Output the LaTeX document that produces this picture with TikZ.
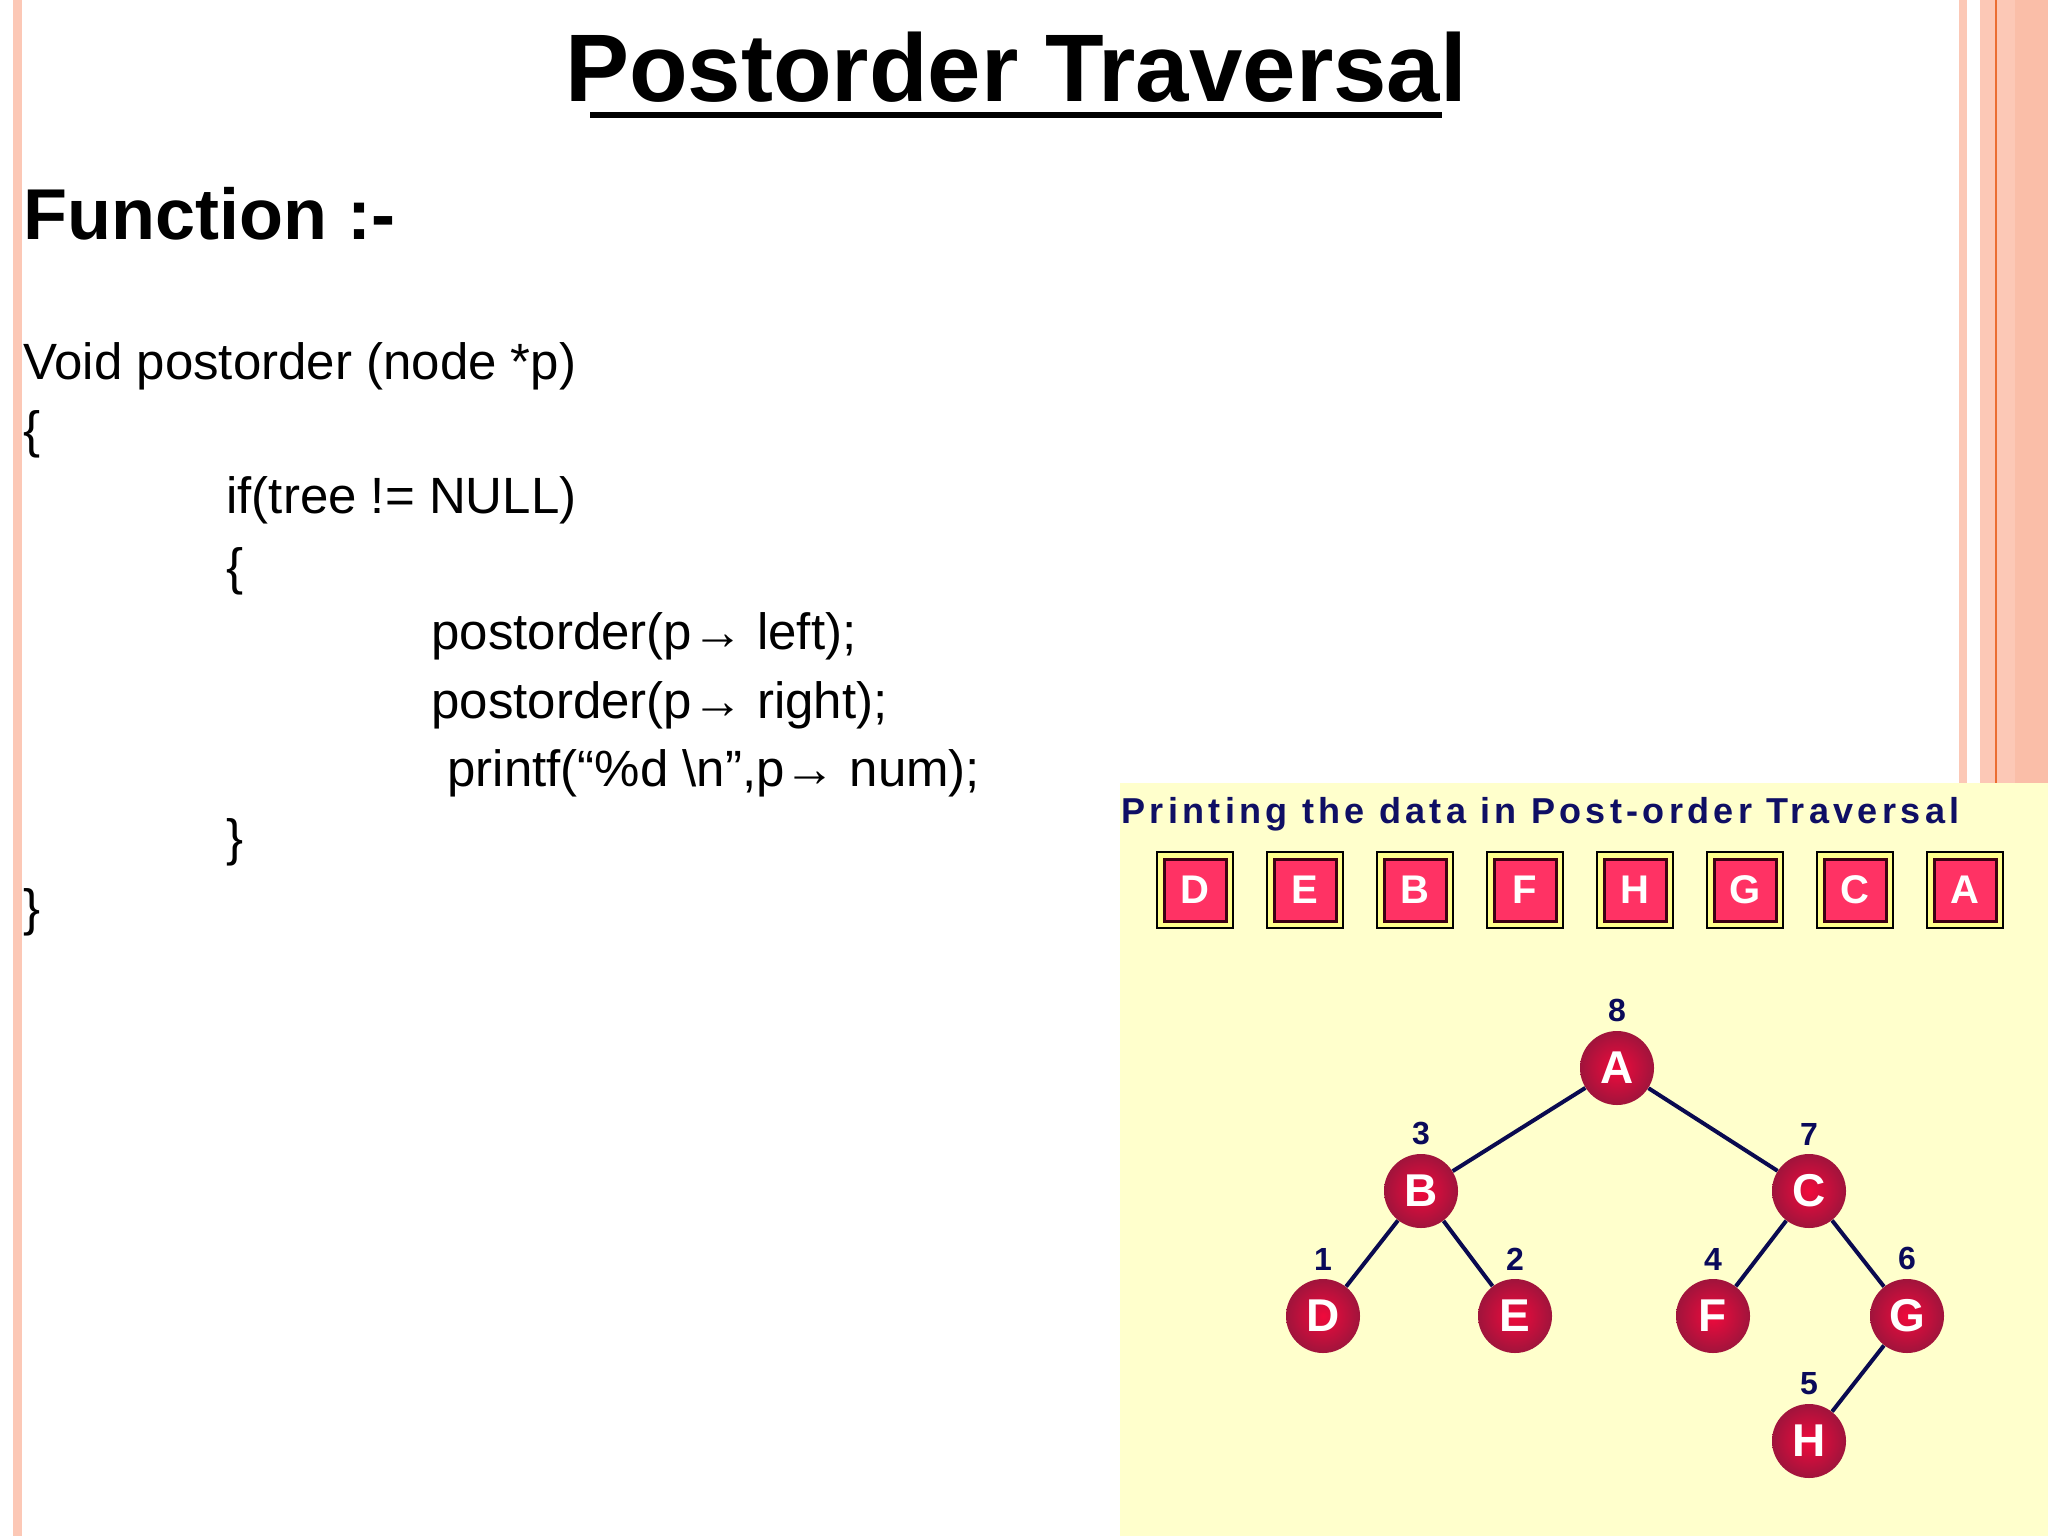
\documentclass[tikz,border=0pt]{standalone}
\usepackage{fontspec}
\setmainfont{Liberation Sans}
\usetikzlibrary{positioning}
\definecolor{salmon}{RGB}{252,200,182}
\definecolor{salmonb}{RGB}{250,190,168}
\definecolor{orln}{RGB}{235,110,50}
\definecolor{rin}{RGB}{240,10,60}
\definecolor{rout}{RGB}{160,20,60}
\definecolor{navy}{RGB}{10,10,90}
\definecolor{edgec}{RGB}{10,10,80}
\definecolor{cellyel}{RGB}{255,255,140}
\definecolor{celldk}{RGB}{60,0,20}
\definecolor{cellred}{RGB}{255,50,100}
\definecolor{panel}{RGB}{255,255,204}
\definecolor{ptit}{RGB}{15,15,100}
\begin{document}
\begin{tikzpicture}[x=0.5pt,y=-0.5pt,
  code/.style={anchor=base west,inner sep=0,font=\fontsize{25.5}{30}\selectfont},
  tnode/.style={circle,minimum size=37pt,inner sep=0,shade,inner color=rin,outer color=rout,text=white,font=\fontsize{23}{26}\bfseries},
  num/.style={text=navy,font=\fontsize{16}{18}\bfseries\selectfont,inner sep=0},
  edge/.style={line width=2pt,draw=edgec},
  cell/.style={draw=black,line width=1.2pt,fill=cellyel,minimum size=38pt,inner sep=0},
  inner/.style={draw=celldk,line width=1.5pt,fill=cellred,minimum size=31pt,inner sep=0,text=white,font=\fontsize{20}{22}\bfseries}]
\useasboundingbox (0,0) rectangle (2048,1536);
\fill[white] (0,0) rectangle (2048,1536);
% borders
\fill[salmon] (13,0) rectangle (22,1536);
\fill[salmon] (1959,0) rectangle (1967,1536);
\fill[salmon] (1980,0) rectangle (2048,1536);
\fill[salmonb] (2015,0) rectangle (2048,1536);
\draw[orln,line width=0.8pt] (1996,0) -- (1996,1536);
% title
\node (title) [anchor=base,inner sep=0,font=\fontsize{48}{56}\bfseries\selectfont] at (1016,102) {Postorder Traversal};
\draw[line width=2.5pt] (590,115) -- (1442,115);
\node (fn) [anchor=base west,inner sep=0,font=\fontsize{36}{40}\bfseries\selectfont] at (23,239) {Function :-};
% code
\node (c1) [code] at (23,379) {Void postorder (node *p)};
\node (c2) [code] at (23,447) {\{};
\node (c3) [code] at (226,513) {if(tree != NULL)};
\node (c4) [code] at (226,584) {\{};
\node (c5) [code] at (431,649) {postorder(p→ left);};
\node (c6) [code] at (431,718) {postorder(p→ right);};
\node (c7) [code] at (447,786) {printf(“\%d \textbackslash n”,p→ num);};
\node (c8) [code] at (226,855) {\}};
\node (c9) [code] at (23,925) {\}};
% panel
\fill[panel] (1120,783) rectangle (2048,1536);
\node (ptitle) [anchor=base west,inner sep=0,text=ptit] at (1121,823)
  {\resizebox{419pt}{!}{\bfseries\addfontfeature{LetterSpace=12}Printing the data in Post-order Traversal}};
\foreach \l [count=\i] in {D,E,B,F,H,G,C,A} {
  \node (cell\i) [cell] at ({1140+55+(\i-1)*110},890) {};
  \node (in\i) [inner] at (cell\i) {\l};
}
% tree
\node (A) [tnode] at (1617,1068) {A};
\node (B) [tnode] at (1421,1191) {B};
\node (C) [tnode] at (1809,1191) {C};
\node (D) [tnode] at (1323,1316) {D};
\node (E) [tnode] at (1515,1316) {E};
\node (F) [tnode] at (1713,1316) {F};
\node (G) [tnode] at (1907,1316) {G};
\node (H) [tnode] at (1809,1441) {H};
\foreach \a/\b in {A/B,A/C,B/D,B/E,C/F,C/G,G/H} \draw[edge] (\a) -- (\b);
\foreach \n/\v in {A/8,B/3,C/7,D/1,E/2,F/4,G/6,H/5} \node (n\n) [num,above=4pt of \n] {\v};
\end{tikzpicture}
\end{document}
